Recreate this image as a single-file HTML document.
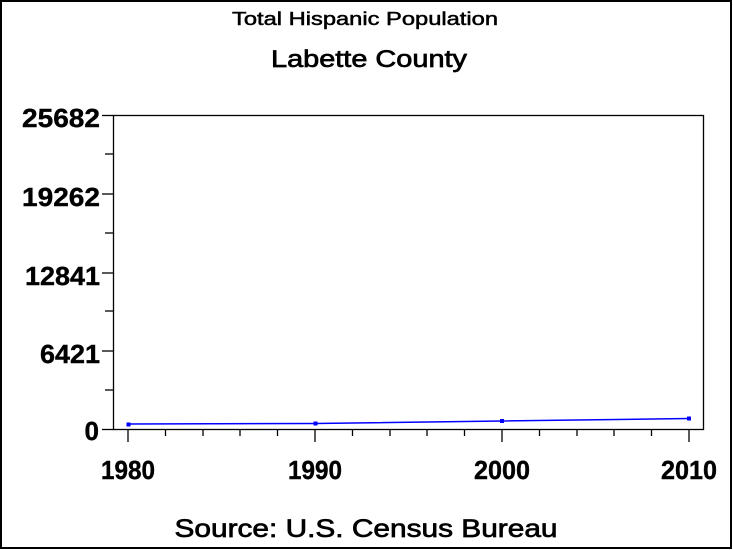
<!DOCTYPE html>
<html>
<head>
<meta charset="utf-8">
<style>
html,body{margin:0;padding:0;background:#fff;}
svg{display:block;}
text{font-family:"Liberation Sans",Arial,sans-serif;fill:#000;}
</style>
</head>
<body>
<svg width="733" height="550" viewBox="0 0 733 550" xmlns="http://www.w3.org/2000/svg">
<rect x="0" y="0" width="733" height="550" fill="#fff"/>
<!-- outer border -->
<rect x="1" y="1" width="730" height="547" fill="none" stroke="#000" stroke-width="2"/>

<!-- titles -->
<text x="365" y="25" font-size="18" text-anchor="middle" textLength="266" lengthAdjust="spacingAndGlyphs" stroke="#000" stroke-width="0.5">Total Hispanic Population</text>
<text x="369" y="67" font-size="24" text-anchor="middle" textLength="196" lengthAdjust="spacingAndGlyphs" stroke="#000" stroke-width="0.7">Labette County</text>
<text x="366" y="537" font-size="25" text-anchor="middle" textLength="383" lengthAdjust="spacingAndGlyphs" stroke="#000" stroke-width="0.7">Source: U.S. Census Bureau</text>

<!-- plot frame -->
<rect x="113.5" y="115.5" width="590" height="314" fill="none" stroke="#000" stroke-width="1.3"/>

<!-- y ticks -->
<g stroke="#000" stroke-width="1.3">
<line x1="102" y1="115.5" x2="113.5" y2="115.5"/>
<line x1="105" y1="154" x2="113.5" y2="154"/>
<line x1="102" y1="194" x2="113.5" y2="194"/>
<line x1="105" y1="233" x2="113.5" y2="233"/>
<line x1="102" y1="273" x2="113.5" y2="273"/>
<line x1="105" y1="311" x2="113.5" y2="311"/>
<line x1="102" y1="351" x2="113.5" y2="351"/>
<line x1="105" y1="390" x2="113.5" y2="390"/>
<line x1="102" y1="429.5" x2="113.5" y2="429.5"/>
</g>
<g font-size="26" font-weight="bold" text-anchor="end" stroke="#000" stroke-width="0.4">
<text x="100" y="127" textLength="78" lengthAdjust="spacingAndGlyphs">25682</text>
<text x="100" y="206" textLength="78" lengthAdjust="spacingAndGlyphs">19262</text>
<text x="100" y="285" textLength="75" lengthAdjust="spacingAndGlyphs">12841</text>
<text x="100" y="363" textLength="60" lengthAdjust="spacingAndGlyphs">6421</text>
<text x="99" y="440">0</text>
</g>

<!-- x ticks -->
<g stroke="#000" stroke-width="1.3">
<line x1="128" y1="429.5" x2="128" y2="442"/>
<line x1="165.5" y1="429.5" x2="165.5" y2="436"/>
<line x1="203" y1="429.5" x2="203" y2="436"/>
<line x1="240" y1="429.5" x2="240" y2="436"/>
<line x1="277.5" y1="429.5" x2="277.5" y2="436"/>
<line x1="315" y1="429.5" x2="315" y2="442"/>
<line x1="352.5" y1="429.5" x2="352.5" y2="436"/>
<line x1="390" y1="429.5" x2="390" y2="436"/>
<line x1="427" y1="429.5" x2="427" y2="436"/>
<line x1="464.5" y1="429.5" x2="464.5" y2="436"/>
<line x1="502" y1="429.5" x2="502" y2="442"/>
<line x1="539.5" y1="429.5" x2="539.5" y2="436"/>
<line x1="577" y1="429.5" x2="577" y2="436"/>
<line x1="614" y1="429.5" x2="614" y2="436"/>
<line x1="651.5" y1="429.5" x2="651.5" y2="436"/>
<line x1="689" y1="429.5" x2="689" y2="442"/>
</g>
<g font-size="26" font-weight="bold" text-anchor="middle" stroke="#000" stroke-width="0.4">
<text x="128" y="479" textLength="54" lengthAdjust="spacingAndGlyphs">1980</text>
<text x="315" y="479" textLength="54" lengthAdjust="spacingAndGlyphs">1990</text>
<text x="502" y="479" textLength="56" lengthAdjust="spacingAndGlyphs">2000</text>
<text x="689" y="479" textLength="56" lengthAdjust="spacingAndGlyphs">2010</text>
</g>

<!-- series -->
<polyline points="128,424 315,423.5 502,421 689,418.5" fill="none" stroke="#0000ff" stroke-width="1.5"/>
<g fill="#0000ff">
<rect x="126.5" y="422.5" width="4" height="4"/>
<rect x="313.5" y="421.5" width="4" height="4"/>
<rect x="500" y="419" width="4" height="4"/>
<rect x="687" y="416.5" width="4" height="4"/>
</g>
</svg>
</body>
</html>
